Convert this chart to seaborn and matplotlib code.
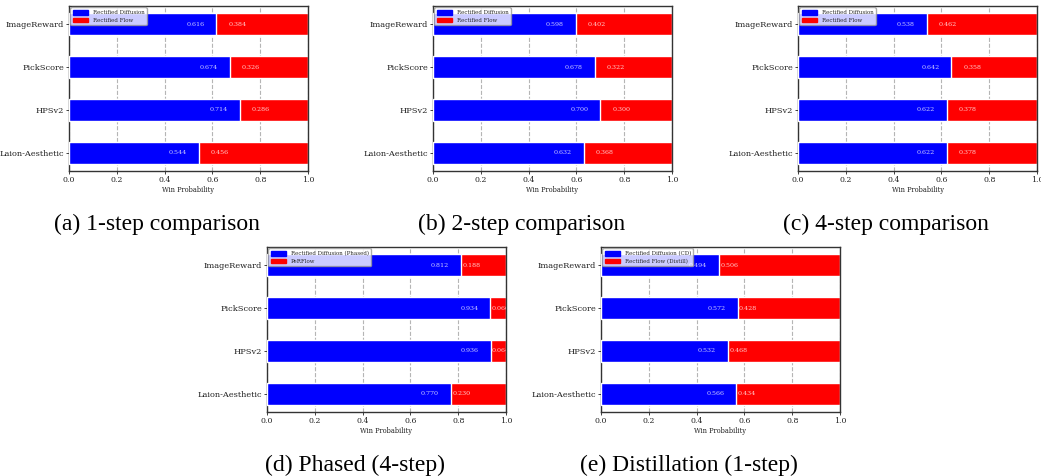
import matplotlib
matplotlib.use("Agg")
import matplotlib.pyplot as plt
from matplotlib.patches import Patch
from matplotlib import font_manager
import numpy as np
import pandas as pd
import seaborn as sns

# Reward models evaluated (top to bottom)
metrics = ["ImageReward", "PickScore", "HPSv2", "Laion-Aesthetic"]

# Win probability of the first method in each comparison
win_1step = [0.616, 0.674, 0.714, 0.544]
win_2step = [0.598, 0.678, 0.700, 0.632]
win_4step = [0.538, 0.642, 0.622, 0.622]
win_phased = [0.812, 0.934, 0.936, 0.770]
win_distill = [0.494, 0.572, 0.532, 0.566]

# Win probability of the second method
lose_1step = [0.384, 0.326, 0.286, 0.456]
lose_2step = [0.402, 0.322, 0.300, 0.368]
lose_4step = [0.462, 0.358, 0.378, 0.378]
lose_phased = [0.188, 0.066, 0.064, 0.230]
lose_distill = [0.506, 0.428, 0.468, 0.434]

names_a = ["Rectified Diffusion", "Rectified Flow"]
names_d = ["Rectified Diffusion (Phased)", "PeRFlow"]
names_e = ["Rectified Diffusion (CD)", "Rectified Flow (Distill)"]

captions = ["(a) 1-step comparison", "(b) 2-step comparison", "(c) 4-step comparison",
            "(d) Phased (4-step)", "(e) Distillation (1-step)"]

xticks = [0.0, 0.2, 0.4, 0.6, 0.8, 1.0]

sns.set_style("white")
plt.rcParams["font.family"] = ["DejaVu Serif"]

installed = {f.name for f in font_manager.fontManager.ttflist}
if "DejaVu Serif Condensed" in installed:
    label_family, label_size = "DejaVu Serif Condensed", 6.5
else:
    label_family, label_size = "DejaVu Serif", 5.95

W, H = 1041, 476
fig = plt.figure(figsize=(W / 100, H / 100), dpi=100)


def panel(rect, win, lose, names, red_offset):
    ax = fig.add_axes(rect)
    df = pd.DataFrame({"metric": metrics, "win": win, "lose": lose})
    df["total"] = df["win"] + df["lose"]
    ax.set_axisbelow(True)
    ax.grid(axis="x", linestyle="--", color="#a8a8a8", linewidth=0.8, alpha=0.85)
    # stacked bars: second method spans the full width, first method on top
    sns.barplot(data=df, y="metric", x="total", order=metrics, color="#ff0000",
                saturation=1, width=0.52, orient="h", ax=ax, zorder=2)
    sns.barplot(data=df, y="metric", x="win", order=metrics, color="#0000ff",
                saturation=1, width=0.52, orient="h", ax=ax, zorder=3)
    for i, (w, l) in enumerate(zip(win, lose)):
        ax.text(w - 0.05, i, f"{w:.3f}", ha="right", va="center", color="white",
                fontsize=4.6, alpha=0.8, zorder=5, clip_on=True)
        ax.text(w + red_offset, i, f"{l:.3f}", ha="left", va="center", color="white",
                fontsize=4.6, alpha=0.8, zorder=5, clip_on=True)
    ax.set_xlim(0, 1)
    ax.set_ylim(len(metrics) - 1 + 0.425, -0.425)
    ax.set_xticks(xticks)
    ax.set_xticklabels([f"{t:.1f}" for t in xticks])
    ax.tick_params(axis="x", labelsize=5.6, length=2, width=0.6, pad=1.5, colors="#222222")
    ax.tick_params(axis="y", length=2, width=0.6, pad=1.5, colors="#222222")
    for lab in ax.get_yticklabels():
        lab.set_family(label_family)
        lab.set_fontsize(label_size)
    ax.tick_params(bottom=True, left=True)
    ax.set_xlabel("Win Probability", fontsize=4.8, labelpad=1.5, color="#222222")
    ax.set_ylabel("")
    for s in ax.spines.values():
        s.set_visible(True)
        s.set_color("#333333")
        s.set_linewidth(1.0)
    handles = [Patch(color="#0000ff", label=names[0]), Patch(color="#ff0000", label=names[1])]
    ax.legend(handles=handles, loc="upper left", fontsize=4.0, frameon=True,
              framealpha=0.8, edgecolor="#999999", fancybox=True,
              borderpad=0.4, labelspacing=0.45, handlelength=2.8, handleheight=1.0,
              borderaxespad=0.25)
    return ax


aw, ah = 239 / W, 165 / H
top_b = 1 - 171 / H
bot_b = 1 - 412 / H
panel([69 / W, top_b, aw, ah], win_1step, lose_1step, names_a, 0.05)
panel([433 / W, top_b, aw, ah], win_2step, lose_2step, names_a, 0.05)
panel([798 / W, top_b, aw, ah], win_4step, lose_4step, names_a, 0.05)
panel([267 / W, bot_b, aw, ah], win_phased, lose_phased, names_d, 0.005)
panel([601 / W, bot_b, aw, ah], win_distill, lose_distill, names_e, 0.005)

cap_font = dict(family="Liberation Serif", fontsize=17, color="black",
                ha="center", va="baseline")
fig.text(157 / W, 1 - 230 / H, captions[0], **cap_font)
fig.text(522 / W, 1 - 230 / H, captions[1], **cap_font)
fig.text(886 / W, 1 - 230 / H, captions[2], **cap_font)
fig.text(355 / W, 1 - 471 / H, captions[3], **cap_font)
fig.text(689 / W, 1 - 471 / H, captions[4], **cap_font)

fig.savefig("out.png", dpi=100)
